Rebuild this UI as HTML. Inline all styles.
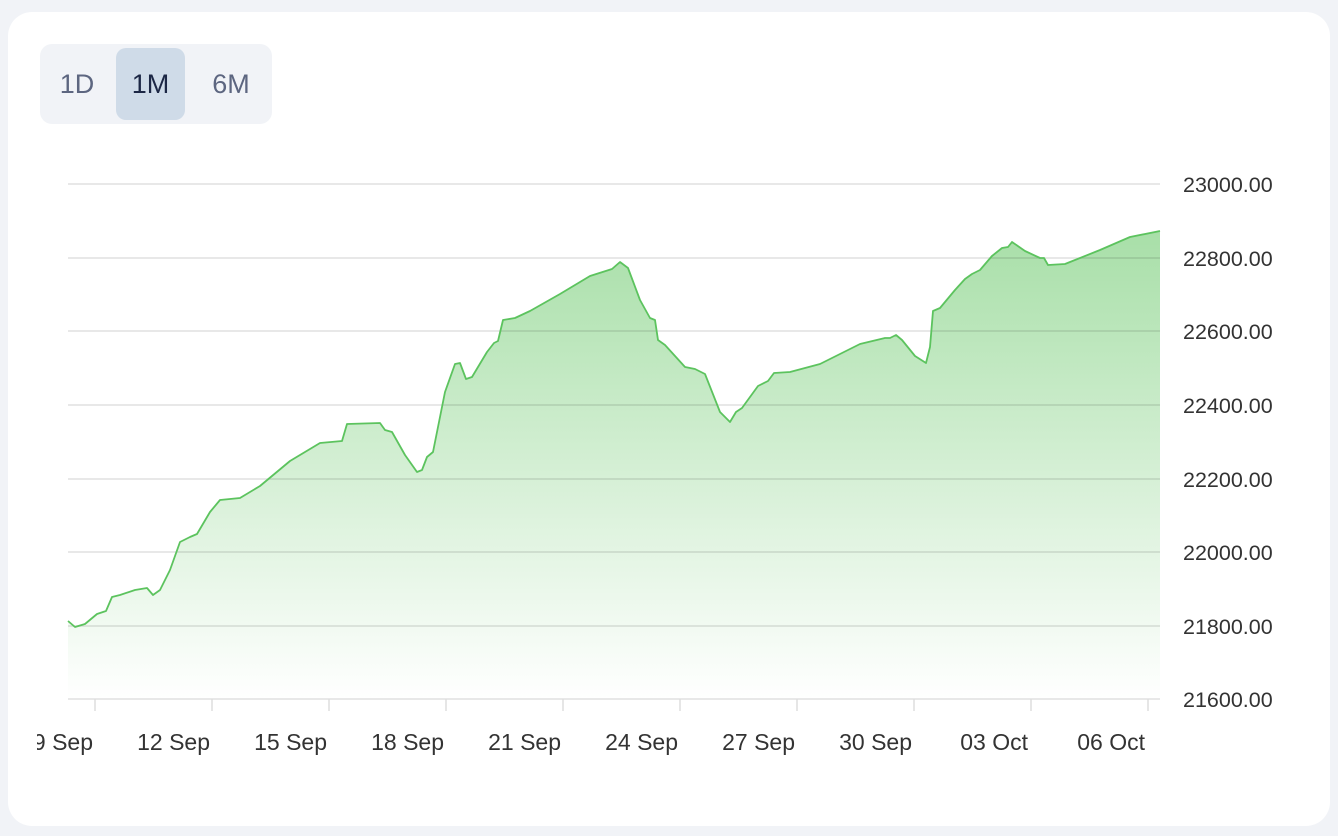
<!DOCTYPE html>
<html><head><meta charset="utf-8"><style>
html,body{margin:0;padding:0;width:1338px;height:836px;background:#f1f3f7;overflow:hidden;font-family:"Liberation Sans",sans-serif}
.card{position:absolute;left:8px;top:12px;width:1322px;height:814px;background:#fff;border-radius:24px}
.grp{position:absolute;left:40px;top:44px;width:232px;height:80px;background:#f1f3f7;border-radius:12px}
.b{position:absolute;top:4px;height:72px;line-height:72px;text-align:center;font-size:27px;color:#5d6680}
.b.a{background:#cfdbe8;color:#1c2745;border-radius:10px}
</style></head><body>
<div class="card"></div>
<div class="grp">
<div class="b" style="left:2px;width:70px">1D</div>
<div class="b a" style="left:76px;width:69px">1M</div>
<div class="b" style="left:154px;width:74px">6M</div>
</div>
<svg width="1338" height="836" style="position:absolute;left:0;top:0">
<defs><linearGradient id="g" x1="0" y1="0" x2="0" y2="1">
<stop offset="0" stop-color="#a8dfa8"/><stop offset="1" stop-color="#ffffff"/></linearGradient>
<clipPath id="c"><rect x="68" y="150" width="1092" height="560"/></clipPath></defs>
<g clip-path="url(#c)">
<polygon fill="url(#g)" points="68,699 68,621 75,627 85,624 97,614 106,611 112,597 120,595 135,590 147,588 153,595 160,590 170,570 180,542 190,537 197,534 210,512 220,500 240,498 260,486 290,461 320,443 342,441 347,424 380,423 385,430 392,432 405,455 417,472 422,470 427,457 433,452 445,392 455,364 460,363 466,379 472,377 487,352 494,343 498,341 503,320 515,318 530,311 560,294 590,276 612,269 620,262 628,268 640,300 650,318 655,320 658,340 665,345 685,367 695,369 705,374 720,412 730,422 736,412 742,408 758,386 768,381 774,373 790,372 820,364 860,344 885,338 890,338 896,335 902,340 915,356 926,363 930,347 933,311 940,308 955,290 965,279 972,274 980,270 992,256 1002,248 1008,247 1012,242 1025,251 1040,258 1044,258 1048,265 1065,264 1100,250 1130,237 1160,231 1160,699"/>
</g>
<g stroke="rgba(0,0,0,0.12)" stroke-width="1.5">
<line x1="68" x2="1160" y1="184" y2="184"/><line x1="68" x2="1160" y1="258" y2="258"/>
<line x1="68" x2="1160" y1="331" y2="331"/><line x1="68" x2="1160" y1="405" y2="405"/>
<line x1="68" x2="1160" y1="479" y2="479"/><line x1="68" x2="1160" y1="552" y2="552"/>
<line x1="68" x2="1160" y1="626" y2="626"/><line x1="68" x2="1160" y1="699" y2="699"/>
</g>
<g stroke="#ddd" stroke-width="1.5">
<line x1="95" x2="95" y1="699" y2="711"/><line x1="212" x2="212" y1="699" y2="711"/>
<line x1="329" x2="329" y1="699" y2="711"/><line x1="446" x2="446" y1="699" y2="711"/>
<line x1="563" x2="563" y1="699" y2="711"/><line x1="680" x2="680" y1="699" y2="711"/>
<line x1="797" x2="797" y1="699" y2="711"/><line x1="914" x2="914" y1="699" y2="711"/>
<line x1="1031" x2="1031" y1="699" y2="711"/><line x1="1148" x2="1148" y1="699" y2="711"/>
</g>
<polyline fill="none" stroke="#5cc35e" stroke-width="1.8" stroke-linejoin="round" points="68,621 75,627 85,624 97,614 106,611 112,597 120,595 135,590 147,588 153,595 160,590 170,570 180,542 190,537 197,534 210,512 220,500 240,498 260,486 290,461 320,443 342,441 347,424 380,423 385,430 392,432 405,455 417,472 422,470 427,457 433,452 445,392 455,364 460,363 466,379 472,377 487,352 494,343 498,341 503,320 515,318 530,311 560,294 590,276 612,269 620,262 628,268 640,300 650,318 655,320 658,340 665,345 685,367 695,369 705,374 720,412 730,422 736,412 742,408 758,386 768,381 774,373 790,372 820,364 860,344 885,338 890,338 896,335 902,340 915,356 926,363 930,347 933,311 940,308 955,290 965,279 972,274 980,270 992,256 1002,248 1008,247 1012,242 1025,251 1040,258 1044,258 1048,265 1065,264 1100,250 1130,237 1160,231"/>
<g font-family="Liberation Sans,sans-serif" font-size="21.5" fill="#333">
<text x="1183" y="192">23000.00</text><text x="1183" y="266">22800.00</text>
<text x="1183" y="339">22600.00</text><text x="1183" y="413">22400.00</text>
<text x="1183" y="487">22200.00</text><text x="1183" y="560">22000.00</text>
<text x="1183" y="634">21800.00</text><text x="1183" y="707">21600.00</text>
</g>
<g font-family="Liberation Sans,sans-serif" font-size="23" fill="#333" text-anchor="end">
<text x="93" y="750">09 Sep</text><text x="210" y="750">12 Sep</text>
<text x="327" y="750">15 Sep</text><text x="444" y="750">18 Sep</text>
<text x="561" y="750">21 Sep</text><text x="678" y="750">24 Sep</text>
<text x="795" y="750">27 Sep</text><text x="912" y="750">30 Sep</text>
<text x="1028" y="750">03 Oct</text><text x="1145" y="750">06 Oct</text>
</g>
</svg>
<div style="position:absolute;left:0;top:700px;width:37px;height:80px;background:#fff"></div>
<div style="position:absolute;left:0;top:0;width:8px;height:836px;background:#f1f3f7"></div>
</body></html>
